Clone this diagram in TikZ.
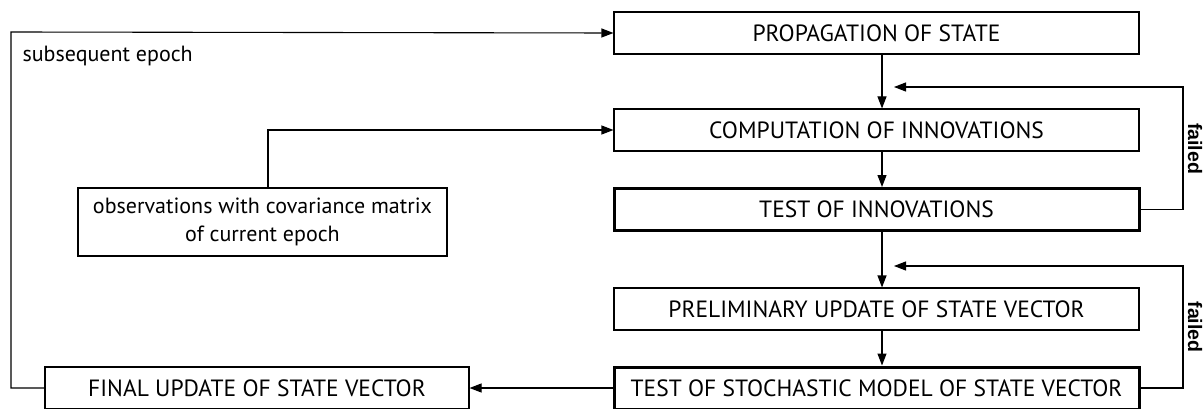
\documentclass[tikz,border=0pt]{standalone}
\usepackage{fontspec}
\setmainfont{PT Sans}
\newfontfamily\failfont{Liberation Sans}
\usetikzlibrary{arrows.meta}
\begin{document}
\begin{tikzpicture}[x=1pt,y=-1pt,
  box/.style={draw, line width=1.1pt, minimum width=525pt, minimum height=42pt, inner sep=0pt, font=\fontsize{23.5}{25}\selectfont},
  tbox/.style={box, line width=3pt},
  arr/.style={line width=1.1pt, -{Triangle[length=12pt,width=9pt]}},
  lab/.style={font=\fontsize{22}{25}\selectfont},
  fail/.style={rotate=-90, font=\failfont\bfseries\fontsize{19.5}{21}\selectfont}]
\useasboundingbox (0,0) rectangle (1204,409);
\node[box] (prop) at (876.5,33) {PROPAGATION OF STATE};
\node[box] (comp) at (876.5,130) {COMPUTATION OF INNOVATIONS};
\node[tbox] (test) at (876.5,209.5) {TEST OF INNOVATIONS};
\node[box] (prel) at (876.5,309) {PRELIMINARY UPDATE OF STATE VECTOR};
\node[tbox] (stoch) at (876.5,388) {TEST OF STOCHASTIC MODEL OF STATE VECTOR};
\node[box, minimum width=424pt] (final) at (257,388) {FINAL UPDATE OF STATE VECTOR};
\node[box, minimum width=369pt, minimum height=68pt, align=center, font=\fontsize{22}{28}\selectfont] (obs) at (262.5,222)
  {observations with covariance matrix\\of current epoch};
\node[lab, anchor=west] (sub) at (19,56) {subsequent epoch};
% main flow
\draw[arr] ([xshift=5.5pt]prop.south) -- ([xshift=5.5pt]comp.north);
\draw[arr] ([xshift=5.5pt]comp.south) -- ([xshift=5.5pt]test.north);
\draw[arr] ([xshift=5.5pt]test.south) -- ([xshift=5.5pt]prel.north);
\draw[arr] ([xshift=5.5pt]prel.south) -- ([xshift=5.5pt]stoch.north);
% feedback loops
\coordinate (r1) at (1183,87);
\coordinate (f1) at (894,87);
\coordinate (r2) at (1183,266);
\coordinate (f2) at (894,266);
\draw[arr] (test.east) -| (r1) -- (f1);
\draw[arr] (stoch.east) -| (r2) -- (f2);
\node[fail] (fail1) at (1195,148.5) {failed};
\node[fail] (fail2) at (1195,327) {failed};
% observations
\draw[arr] ([xshift=5.5pt]obs.north) |- (comp.west);
% final & subsequent epoch
\draw[arr] (stoch.west) -- (final.east);
\coordinate (l1) at (11,388);
\coordinate (l2) at (11,32);
\draw[arr] (final.west) -- (l1) -- (l2) -- (prop.west);
\end{tikzpicture}
\end{document}
